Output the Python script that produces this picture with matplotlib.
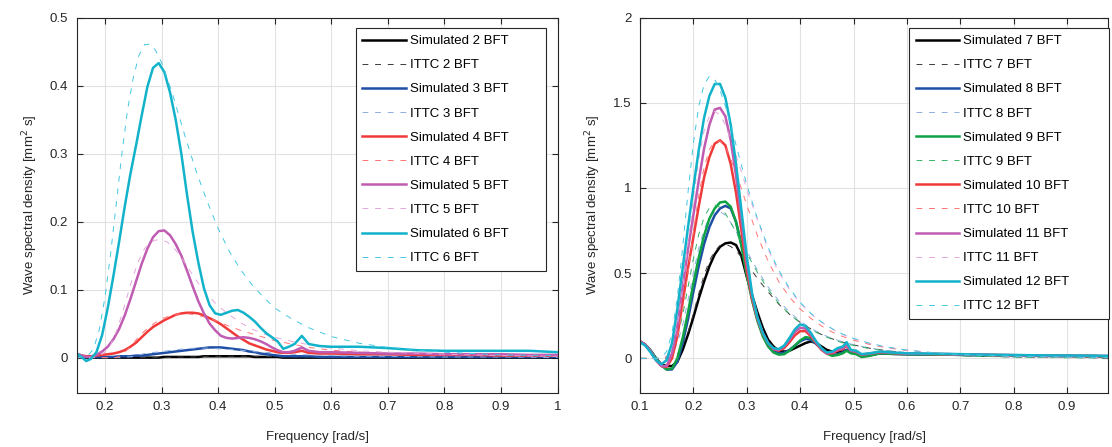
import matplotlib.pyplot as plt

# =========================================
# DATA - LEFT PANEL (2-6 BFT)
# =========================================

freq_sim_left = [0.150, 0.160, 0.167, 0.175, 0.185,
                 0.195, 0.205, 0.215, 0.225, 0.235,
                 0.245, 0.255, 0.265, 0.275, 0.285,
                 0.295, 0.305, 0.315, 0.325, 0.335,
                 0.345, 0.355, 0.365, 0.375, 0.385,
                 0.395, 0.405, 0.415, 0.425, 0.435,
                 0.445, 0.455, 0.465, 0.475, 0.485,
                 0.495, 0.505, 0.515, 0.525, 0.535,
                 0.548, 0.560, 0.580, 0.600, 0.650,
                 0.700, 0.750, 0.800, 0.850, 0.900,
                 0.950, 1.000]

sim_2 = [0.000, 0.000, 0.000, 0.000, 0.000,
         0.000, 0.000, 0.000, 0.000, 0.000,
         0.000, 0.000, 0.000, 0.000, 0.000,
         0.000, 0.001, 0.001, 0.001, 0.001,
         0.001, 0.001, 0.001, 0.002, 0.002,
         0.002, 0.002, 0.002, 0.002, 0.002,
         0.002, 0.002, 0.001, 0.001, 0.001,
         0.001, 0.001, 0.000, 0.000, 0.000,
         0.000, 0.000, 0.000, 0.000, 0.000,
         0.000, 0.000, 0.000, 0.000, 0.000,
         0.000, 0.000]

sim_3 = [0.001, 0.001, 0.001, 0.001, 0.001,
         0.001, 0.001, 0.001, 0.002, 0.002,
         0.002, 0.003, 0.003, 0.004, 0.005,
         0.006, 0.007, 0.008, 0.009, 0.010,
         0.011, 0.012, 0.013, 0.014, 0.015,
         0.015, 0.015, 0.014, 0.013, 0.012,
         0.011, 0.009, 0.008, 0.006, 0.005,
         0.004, 0.003, 0.002, 0.002, 0.002,
         0.002, 0.002, 0.001, 0.001, 0.001,
         0.001, 0.001, 0.001, 0.001, 0.001,
         0.001, 0.001]

sim_4 = [0.004, 0.003, 0.002, 0.002, 0.003,
         0.004, 0.005, 0.006, 0.008, 0.011,
         0.016, 0.022, 0.030, 0.038, 0.045,
         0.050, 0.055, 0.059, 0.063, 0.065,
         0.066, 0.066, 0.065, 0.062, 0.058,
         0.054, 0.049, 0.043, 0.037, 0.031,
         0.026, 0.021, 0.018, 0.015, 0.012,
         0.010, 0.008, 0.007, 0.007, 0.008,
         0.010, 0.007, 0.006, 0.006, 0.005,
         0.005, 0.004, 0.004, 0.004, 0.003,
         0.003, 0.003]

sim_5 = [0.006, 0.003, 0.001, 0.001, 0.004,
         0.009, 0.016, 0.027, 0.042, 0.062,
         0.086, 0.112, 0.138, 0.160, 0.177,
         0.186, 0.187, 0.180, 0.167, 0.150,
         0.128, 0.105, 0.083, 0.065, 0.050,
         0.040, 0.032, 0.029, 0.028, 0.029,
         0.030, 0.029, 0.027, 0.024, 0.020,
         0.015, 0.011, 0.008, 0.008, 0.010,
         0.015, 0.010, 0.008, 0.008, 0.007,
         0.006, 0.006, 0.005, 0.005, 0.005,
         0.004, 0.004]

sim_6 = [0.006, 0.000, -0.005, -0.002, 0.008,
         0.033, 0.073, 0.120, 0.170, 0.222,
         0.270, 0.312, 0.356, 0.398, 0.426,
         0.433, 0.420, 0.390, 0.350, 0.300,
         0.240, 0.185, 0.140, 0.102, 0.077,
         0.065, 0.063, 0.066, 0.069, 0.070,
         0.066, 0.060, 0.053, 0.044, 0.036,
         0.030, 0.024, 0.013, 0.016, 0.020,
         0.032, 0.020, 0.017, 0.016, 0.016,
         0.014, 0.011, 0.010, 0.010, 0.010,
         0.010, 0.008]

freq_ittc_left = [0.150, 0.170, 0.180, 0.190, 0.200,
                  0.210, 0.220, 0.230, 0.240, 0.250,
                  0.260, 0.270, 0.280, 0.290, 0.300,
                  0.310, 0.320, 0.330, 0.340, 0.360,
                  0.380, 0.400, 0.420, 0.440, 0.460,
                  0.480, 0.500, 0.530, 0.560, 0.600,
                  0.650, 0.700, 0.800, 0.900, 1.000]

ittc_2 = [0.000, 0.000, 0.000, 0.000, 0.000,
          0.000, 0.000, 0.000, 0.000, 0.000,
          0.000, 0.000, 0.000, 0.000, 0.000,
          0.000, 0.001, 0.001, 0.001, 0.001,
          0.002, 0.002, 0.002, 0.002, 0.002,
          0.002, 0.001, 0.001, 0.001, 0.001,
          0.001, 0.000, 0.000, 0.000, 0.000]

ittc_3 = [0.000, 0.000, 0.000, 0.000, 0.000,
          0.000, 0.000, 0.000, 0.001, 0.002,
          0.004, 0.006, 0.007, 0.008, 0.009,
          0.010, 0.011, 0.012, 0.013, 0.014,
          0.014, 0.013, 0.012, 0.011, 0.009,
          0.008, 0.007, 0.005, 0.004, 0.003,
          0.002, 0.002, 0.001, 0.001, 0.000]

ittc_4 = [0.000, 0.000, 0.000, 0.000, 0.000,
          0.000, 0.000, 0.004, 0.012, 0.021,
          0.031, 0.039, 0.046, 0.052, 0.057,
          0.060, 0.062, 0.064, 0.065, 0.063,
          0.059, 0.053, 0.046, 0.040, 0.035,
          0.030, 0.025, 0.020, 0.015, 0.011,
          0.008, 0.006, 0.004, 0.003, 0.002]

ittc_5 = [0.000, 0.000, 0.001, 0.002, 0.008,
          0.019, 0.038, 0.063, 0.092, 0.120,
          0.143, 0.160, 0.169, 0.173, 0.173,
          0.170, 0.163, 0.153, 0.141, 0.115,
          0.093, 0.076, 0.063, 0.051, 0.042,
          0.035, 0.030, 0.024, 0.019, 0.014,
          0.010, 0.008, 0.005, 0.003, 0.002]

ittc_6 = [0.000, 0.003, 0.013, 0.041, 0.088,
          0.152, 0.226, 0.300, 0.364, 0.411,
          0.444, 0.460, 0.461, 0.451, 0.434,
          0.411, 0.386, 0.358, 0.330, 0.277,
          0.231, 0.190, 0.156, 0.129, 0.107,
          0.089, 0.073, 0.057, 0.044, 0.031,
          0.021, 0.015, 0.008, 0.004, 0.003]

# =========================================
# DATA - RIGHT PANEL (7-12 BFT)
# =========================================

freq_sim_right = [0.100, 0.110, 0.120, 0.130, 0.140,
                  0.150, 0.160, 0.170, 0.180, 0.190,
                  0.200, 0.210, 0.220, 0.230, 0.240,
                  0.250, 0.260, 0.270, 0.280, 0.290,
                  0.300, 0.310, 0.320, 0.330, 0.340,
                  0.350, 0.360, 0.370, 0.380, 0.390,
                  0.400, 0.410, 0.420, 0.430, 0.440,
                  0.450, 0.460, 0.470, 0.480, 0.487,
                  0.495, 0.505, 0.515, 0.530, 0.550,
                  0.570, 0.600, 0.650, 0.700, 0.750,
                  0.800, 0.850, 0.900, 0.950, 0.977]

sim_7 = [0.100, 0.080, 0.045, 0.000, -0.035,
         -0.045, -0.045, -0.020, 0.050, 0.140,
         0.240, 0.350, 0.450, 0.540, 0.610,
         0.655, 0.675, 0.680, 0.665, 0.600,
         0.480, 0.370, 0.270, 0.180, 0.110,
         0.070, 0.045, 0.040, 0.045, 0.060,
         0.075, 0.090, 0.100, 0.090, 0.070,
         0.050, 0.040, 0.038, 0.040, 0.050,
         0.040, 0.035, 0.020, 0.022, 0.030,
         0.027, 0.025, 0.023, 0.021, 0.019,
         0.017, 0.015, 0.014, 0.013, 0.012]

sim_8 = [0.100, 0.080, 0.045, 0.000, -0.040,
         -0.065, -0.065, -0.020, 0.090, 0.230,
         0.390, 0.540, 0.670, 0.770, 0.840,
         0.880, 0.895, 0.880, 0.800, 0.670,
         0.500, 0.350, 0.230, 0.140, 0.080,
         0.045, 0.030, 0.033, 0.050, 0.075,
         0.100, 0.115, 0.110, 0.085, 0.055,
         0.032, 0.020, 0.025, 0.035, 0.050,
         0.035, 0.030, 0.012, 0.018, 0.030,
         0.027, 0.025, 0.023, 0.021, 0.019,
         0.017, 0.015, 0.014, 0.013, 0.012]

sim_9 = [0.100, 0.080, 0.045, 0.000, -0.040,
         -0.065, -0.060, 0.000, 0.120, 0.270,
         0.440, 0.590, 0.720, 0.820, 0.880,
         0.915, 0.920, 0.890, 0.800, 0.660,
         0.490, 0.340, 0.220, 0.130, 0.070,
         0.035, 0.022, 0.025, 0.045, 0.075,
         0.105, 0.125, 0.120, 0.090, 0.055,
         0.028, 0.015, 0.020, 0.030, 0.045,
         0.030, 0.025, 0.008, 0.015, 0.030,
         0.027, 0.025, 0.023, 0.021, 0.019,
         0.017, 0.016, 0.014, 0.013, 0.012]

sim_10 = [0.100, 0.080, 0.040, -0.010, -0.045,
          -0.050, 0.000, 0.130, 0.330, 0.530,
          0.710, 0.890, 1.060, 1.180, 1.260,
          1.280, 1.250, 1.140, 0.970, 0.750,
          0.520, 0.350, 0.230, 0.145, 0.090,
          0.055, 0.045, 0.060, 0.095, 0.135,
          0.160, 0.160, 0.130, 0.090, 0.050,
          0.028, 0.030, 0.045, 0.055, 0.075,
          0.045, 0.040, 0.022, 0.028, 0.036,
          0.032, 0.028, 0.026, 0.024, 0.021,
          0.019, 0.017, 0.015, 0.014, 0.013]

sim_11 = [0.100, 0.080, 0.040, -0.010, -0.045,
          -0.045, 0.030, 0.190, 0.420, 0.640,
          0.840, 1.040, 1.230, 1.370, 1.460,
          1.470, 1.420, 1.280, 1.070, 0.820,
          0.560, 0.370, 0.240, 0.150, 0.090,
          0.055, 0.050, 0.070, 0.110, 0.155,
          0.180, 0.175, 0.140, 0.095, 0.055,
          0.030, 0.035, 0.050, 0.060, 0.080,
          0.045, 0.040, 0.022, 0.028, 0.038,
          0.033, 0.028, 0.026, 0.024, 0.021,
          0.019, 0.017, 0.016, 0.015, 0.014]

sim_12 = [0.095, 0.075, 0.035, -0.010, -0.035,
          -0.010, 0.090, 0.290, 0.530, 0.770,
          1.000, 1.220, 1.410, 1.540, 1.610,
          1.610, 1.530, 1.370, 1.140, 0.870,
          0.600, 0.380, 0.240, 0.150, 0.090,
          0.060, 0.055, 0.075, 0.120, 0.170,
          0.200, 0.190, 0.150, 0.100, 0.060,
          0.035, 0.040, 0.060, 0.070, 0.095,
          0.050, 0.045, 0.025, 0.030, 0.040,
          0.035, 0.030, 0.028, 0.025, 0.022,
          0.020, 0.018, 0.017, 0.016, 0.015]

freq_ittc_right = [0.100, 0.130, 0.140, 0.150, 0.160,
                   0.170, 0.180, 0.190, 0.200, 0.210,
                   0.220, 0.230, 0.240, 0.250, 0.260,
                   0.270, 0.280, 0.290, 0.300, 0.320,
                   0.340, 0.360, 0.380, 0.400, 0.420,
                   0.440, 0.460, 0.480, 0.500, 0.530,
                   0.560, 0.600, 0.650, 0.700, 0.800,
                   0.900, 0.977]

ittc_7 = [0.000, 0.000, 0.000, 0.001, 0.005,
          0.023, 0.074, 0.152, 0.262, 0.379,
          0.488, 0.573, 0.630, 0.662, 0.670,
          0.657, 0.630, 0.596, 0.556, 0.469,
          0.390, 0.318, 0.259, 0.212, 0.173,
          0.140, 0.115, 0.095, 0.079, 0.060,
          0.046, 0.033, 0.023, 0.016, 0.008,
          0.005, 0.003]

ittc_8 = [0.000, 0.000, 0.000, 0.005, 0.025,
          0.089, 0.195, 0.341, 0.500, 0.646,
          0.756, 0.829, 0.861, 0.862, 0.840,
          0.796, 0.744, 0.687, 0.629, 0.518,
          0.419, 0.338, 0.272, 0.219, 0.177,
          0.143, 0.117, 0.097, 0.080, 0.061,
          0.047, 0.034, 0.023, 0.016, 0.008,
          0.005, 0.003]

ittc_9 = [0.000, 0.000, 0.000, 0.009, 0.042,
          0.122, 0.254, 0.419, 0.583, 0.726,
          0.827, 0.883, 0.900, 0.886, 0.850,
          0.798, 0.739, 0.680, 0.617, 0.505,
          0.405, 0.323, 0.260, 0.209, 0.169,
          0.137, 0.112, 0.091, 0.076, 0.057,
          0.044, 0.032, 0.022, 0.015, 0.008,
          0.004, 0.003]

ittc_10 = [0.000, 0.000, 0.000, 0.007, 0.037,
           0.132, 0.289, 0.505, 0.740, 0.955,
           1.118, 1.226, 1.274, 1.276, 1.242,
           1.170, 1.085, 0.995, 0.900, 0.720,
           0.570, 0.450, 0.360, 0.290, 0.235,
           0.190, 0.155, 0.128, 0.107, 0.082,
           0.063, 0.046, 0.032, 0.022, 0.012,
           0.007, 0.004]

ittc_11 = [0.000, 0.000, 0.001, 0.015, 0.068,
           0.196, 0.410, 0.675, 0.940, 1.170,
           1.333, 1.422, 1.450, 1.428, 1.370,
           1.286, 1.190, 1.095, 0.994, 0.813,
           0.640, 0.505, 0.405, 0.325, 0.262,
           0.212, 0.172, 0.140, 0.116, 0.088,
           0.067, 0.049, 0.033, 0.023, 0.012,
           0.007, 0.004]

ittc_12 = [0.000, 0.000, 0.006, 0.040, 0.148,
           0.357, 0.650, 0.975, 1.262, 1.477,
           1.606, 1.655, 1.638, 1.574, 1.480,
           1.370, 1.252, 1.135, 1.020, 0.820,
           0.652, 0.517, 0.412, 0.329, 0.265,
           0.214, 0.174, 0.142, 0.117, 0.089,
           0.068, 0.049, 0.033, 0.023, 0.012,
           0.007, 0.004]

# tick labels
xticks_left = [0.2, 0.3, 0.4, 0.5, 0.6, 0.7, 0.8, 0.9, 1.0]
xticklabels_left = ['0.2', '0.3', '0.4', '0.5', '0.6', '0.7', '0.8', '0.9', '1']
yticks_left = [0, 0.1, 0.2, 0.3, 0.4, 0.5]
yticklabels_left = ['0', '0.1', '0.2', '0.3', '0.4', '0.5']

xticks_right = [0.1, 0.2, 0.3, 0.4, 0.5, 0.6, 0.7, 0.8, 0.9]
xticklabels_right = ['0.1', '0.2', '0.3', '0.4', '0.5', '0.6', '0.7', '0.8', '0.9']
yticks_right = [0, 0.5, 1, 1.5, 2]
yticklabels_right = ['0', '0.5', '1', '1.5', '2']

# =========================================
# STYLE
# =========================================

plt.rcParams['font.family'] = ['Liberation Sans', 'DejaVu Sans']
plt.rcParams['font.size'] = 9.5

AX_COLOR = '#262626'

# (sim colour, ittc colour)
colors = {
    'black': ('#000000', '#3a3a3a'),
    'blue': ('#1f4fa5', '#8eaee0'),
    'green': ('#10a345', '#33b567'),
    'red': ('#f03a3a', '#ff7474'),
    'purple': ('#c05cb2', '#e3a6db'),
    'cyan': ('#12b3ca', '#44c8e2'),
}

SIM_LW = 1.8
ITTC_LW = 0.7
DASH = (6.0, 7.0)


def draw_pair(ax, fs, sim, fi, ittc, name, key):
    c_sim, c_ittc = colors[key]
    ax.plot(fs, sim, color=c_sim, lw=SIM_LW, label='Simulated ' + name)
    ax.plot(fi, ittc, color=c_ittc, lw=ITTC_LW, dashes=DASH, label='ITTC ' + name)


def style_axes(ax, xlim, ylim, xt, xtl, yt, ytl):
    ax.set_xlim(xlim)
    ax.set_ylim(ylim)
    ax.set_xticks(xt)
    ax.set_xticklabels(xtl)
    ax.set_yticks(yt)
    ax.set_yticklabels(ytl)
    ax.grid(True, color='#e2e2e2', lw=0.8)
    ax.set_axisbelow(True)
    ax.tick_params(direction='in', top=True, right=True, length=4,
                   width=0.8, color=AX_COLOR, pad=6, labelsize=9.5,
                   labelcolor=AX_COLOR)
    for sp in ax.spines.values():
        sp.set_color(AX_COLOR)
        sp.set_linewidth(0.8)
    ax.set_xlabel('Frequency [rad/s]', fontsize=9.5, color=AX_COLOR, labelpad=13)
    ax.set_ylabel('Wave spectral density [mm$^{2}$ s]', fontsize=9.5,
                  color=AX_COLOR, labelpad=7)


def add_legend(ax, box):
    # box = (x0, width, top) in axes units, legend stretched to this width
    x0, w, top = box
    leg = ax.legend(loc='upper left', bbox_to_anchor=(x0, 0, w, top),
                    mode='expand', borderaxespad=0, fancybox=False,
                    framealpha=1, edgecolor=AX_COLOR, handlelength=3.3,
                    handletextpad=0.3, labelspacing=0.9, borderpad=0.5,
                    fontsize=9.5)
    leg.get_frame().set_linewidth(0.8)


# =========================================
# FIGURE
# =========================================

fig = plt.figure(figsize=(11.12, 4.47), dpi=100)
ax1 = fig.add_axes([0.0689, 0.1208, 0.4326, 0.8400])
ax2 = fig.add_axes([0.5755, 0.1208, 0.4211, 0.8400])

# -----------------------------------------
# LEFT PANEL
# -----------------------------------------

draw_pair(ax1, freq_sim_left, sim_2, freq_ittc_left, ittc_2, '2 BFT', 'black')
draw_pair(ax1, freq_sim_left, sim_3, freq_ittc_left, ittc_3, '3 BFT', 'blue')
draw_pair(ax1, freq_sim_left, sim_4, freq_ittc_left, ittc_4, '4 BFT', 'red')
draw_pair(ax1, freq_sim_left, sim_5, freq_ittc_left, ittc_5, '5 BFT', 'purple')
draw_pair(ax1, freq_sim_left, sim_6, freq_ittc_left, ittc_6, '6 BFT', 'cyan')

style_axes(ax1, (0.15, 1.0), (-0.052, 0.5),
           xticks_left, xticklabels_left, yticks_left, yticklabels_left)
add_legend(ax1, (0.580, 0.395, 0.971))

# -----------------------------------------
# RIGHT PANEL
# -----------------------------------------

draw_pair(ax2, freq_sim_right, sim_7, freq_ittc_right, ittc_7, '7 BFT', 'black')
draw_pair(ax2, freq_sim_right, sim_8, freq_ittc_right, ittc_8, '8 BFT', 'blue')
draw_pair(ax2, freq_sim_right, sim_9, freq_ittc_right, ittc_9, '9 BFT', 'green')
draw_pair(ax2, freq_sim_right, sim_10, freq_ittc_right, ittc_10, '10 BFT', 'red')
draw_pair(ax2, freq_sim_right, sim_11, freq_ittc_right, ittc_11, '11 BFT', 'purple')
draw_pair(ax2, freq_sim_right, sim_12, freq_ittc_right, ittc_12, '12 BFT', 'cyan')

style_axes(ax2, (0.1, 0.977), (-0.203, 2.0),
           xticks_right, xticklabels_right, yticks_right, yticklabels_right)
add_legend(ax2, (0.5744, 0.4264, 0.971))

fig.savefig('out.png', dpi=100)
